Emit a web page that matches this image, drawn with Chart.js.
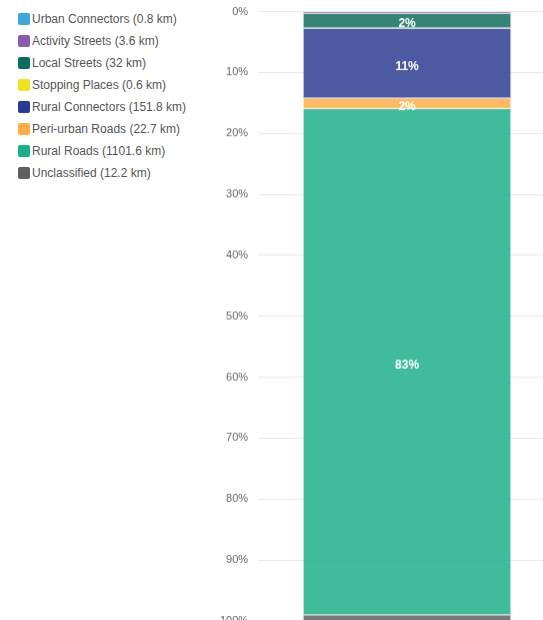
<!DOCTYPE html>
<html>
<head>
<meta charset="utf-8">
<script src="https://cdn.jsdelivr.net/npm/chart.js@4.4.1/dist/chart.umd.min.js"></script>
<style>
  html, body { margin: 0; padding: 0; background: #fff; overflow: hidden; }
  body { width: 543px; height: 620px; position: relative; font-family: "Liberation Sans", Arial, sans-serif; }
  .legend { position: absolute; left: 18px; top: 12px; margin: 0; padding: 0; list-style: none; }
  .legend li { height: 22px; line-height: 14px; font-size: 12px; color: #555; white-space: nowrap; }
  .legend span { display: inline-block; width: 12px; height: 12px; border-radius: 2px; margin-right: 2px; vertical-align: -2px; }
  .chart-wrap { position: absolute; left: 210px; top: -4.75px; width: 346px; height: 641.5px; }
</style>
</head>
<body>
<ul class="legend" id="legend"></ul>
<div class="chart-wrap"><canvas id="roadChart"></canvas></div>
<script>
const roadTypes = ['Urban Connectors', 'Activity Streets', 'Local Streets', 'Stopping Places',
  'Rural Connectors', 'Peri-urban Roads', 'Rural Roads', 'Unclassified'];
const lengthsKm = [0.8, 3.6, 32, 0.6, 151.8, 22.7, 1101.6, 12.2];
const typeColors = ['#3ea8dd', '#8b5aab', '#0f6b5b', '#f2e424', '#27388e', '#fdac46', '#19ae87', '#5f5f5f'];
const yTicks = [0, 10, 20, 30, 40, 50, 60, 70, 80, 90, 100];

const totalKm = lengthsKm.reduce((a, b) => a + b, 0);
const shares = lengthsKm.map(v => v / totalKm * 100);

function withAlpha(hex, a) {
  const n = parseInt(hex.slice(1), 16);
  return `rgba(${n >> 16}, ${(n >> 8) & 255}, ${n & 255}, ${a})`;
}

// legend on the left, built from the same arrays
const legendEl = document.getElementById('legend');
roadTypes.forEach((name, i) => {
  const li = document.createElement('li');
  li.innerHTML = `<span style="background:${typeColors[i]}"></span>${name} (${lengthsKm[i]} km)`;
  legendEl.appendChild(li);
});

// percentage text in the middle of each segment that is big enough
const segmentLabels = {
  id: 'segmentLabels',
  afterDatasetsDraw(chart) {
    const ctx = chart.ctx;
    ctx.save();
    ctx.font = 'bold 12px "Liberation Sans", Arial, sans-serif';
    ctx.fillStyle = '#fff';
    ctx.textAlign = 'center';
    ctx.textBaseline = 'middle';
    chart.data.datasets.forEach((ds, i) => {
      const pct = ds.data[0];
      if (pct < 1) return;
      const bar = chart.getDatasetMeta(i).data[0];
      const mid = (bar.y + bar.base) / 2;
      ctx.fillText(Math.round(pct) + '%', bar.x, mid + 3);
    });
    ctx.restore();
  }
};

const ctx = document.getElementById('roadChart').getContext('2d');

// eslint-disable-next-line no-unused-vars
const roadChart = new Chart(ctx, {
  type: 'bar',
  data: {
    labels: ['Roads'],
    datasets: roadTypes.map((name, i) => ({
      label: name,
      data: [shares[i]],
      backgroundColor: withAlpha(typeColors[i], 0.83),
      borderColor: withAlpha(typeColors[i], 0.25),
      borderWidth: 1,
      barPercentage: 0.875,
      categoryPercentage: 0.8,
    })),
  },
  plugins: [segmentLabels],
  options: {
    responsive: true,
    maintainAspectRatio: false,
    animation: false,
    layout: { padding: { top: 0, bottom: 3 } },
    plugins: {
      legend: { display: false },
      tooltip: { enabled: false },
    },
    scales: {
      x: { stacked: true, display: false },
      y: {
        stacked: true,
        reverse: true,
        min: 0,
        max: 100,
        afterBuildTicks(axis) { axis.ticks = yTicks.map(v => ({ value: v })); },
        border: { display: false },
        grid: { color: '#e9e9e9', drawTicks: false },
        ticks: {
          color: '#666',
          padding: 10,
          font: { size: 11, family: '"Liberation Sans", Arial, sans-serif' },
          callback: v => v + '%',
        },
      },
    },
  },
});
</script>
</body>
</html>
